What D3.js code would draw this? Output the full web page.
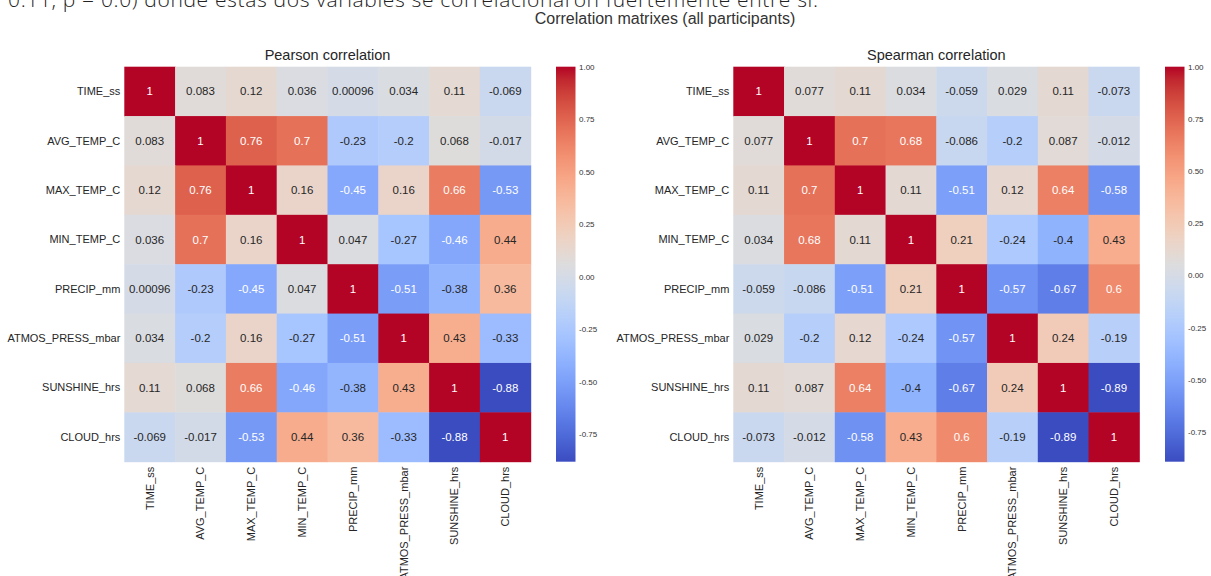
<!DOCTYPE html>
<html>
<head>
<meta charset="utf-8">
<script src="https://cdn.jsdelivr.net/npm/d3@7"></script>
<style>
  body { margin: 0; background: #fff; }
  svg text { font-family: "Liberation Sans", Arial, sans-serif; }
  .intro { font-family: "Open Sans", sans-serif; font-weight: 300; }
</style>
</head>
<body>
<svg id="chart" width="1211" height="576"></svg>
<script>
// variable names (rows and columns)
const vars = ["TIME_ss", "AVG_TEMP_C", "MAX_TEMP_C", "MIN_TEMP_C", "PRECIP_mm",
  "ATMOS_PRESS_mbar", "SUNSHINE_hrs", "CLOUD_hrs"];

const pearson = [
  [1, 0.083, 0.12, 0.036, 0.00096, 0.034, 0.11, -0.069],
  [0.083, 1, 0.76, 0.7, -0.23, -0.2, 0.068, -0.017],
  [0.12, 0.76, 1, 0.16, -0.45, 0.16, 0.66, -0.53],
  [0.036, 0.7, 0.16, 1, 0.047, -0.27, -0.46, 0.44],
  [0.00096, -0.23, -0.45, 0.047, 1, -0.51, -0.38, 0.36],
  [0.034, -0.2, 0.16, -0.27, -0.51, 1, 0.43, -0.33],
  [0.11, 0.068, 0.66, -0.46, -0.38, 0.43, 1, -0.88],
  [-0.069, -0.017, -0.53, 0.44, 0.36, -0.33, -0.88, 1]
];

const spearman = [
  [1, 0.077, 0.11, 0.034, -0.059, 0.029, 0.11, -0.073],
  [0.077, 1, 0.7, 0.68, -0.086, -0.2, 0.087, -0.012],
  [0.11, 0.7, 1, 0.11, -0.51, 0.12, 0.64, -0.58],
  [0.034, 0.68, 0.11, 1, 0.21, -0.24, -0.4, 0.43],
  [-0.059, -0.086, -0.51, 0.21, 1, -0.57, -0.67, 0.6],
  [0.029, -0.2, 0.12, -0.24, -0.57, 1, 0.24, -0.19],
  [0.11, 0.087, 0.64, -0.4, -0.67, 0.24, 1, -0.89],
  [-0.073, -0.012, -0.58, 0.43, 0.6, -0.19, -0.89, 1]
];

const cbarTicks = [1.0, 0.75, 0.5, 0.25, 0.0, -0.25, -0.5, -0.75];

// coolwarm (Moreland) control colours
const coolwarm = ["#3b4cc0", "#445acc", "#4d68d7", "#5775e1", "#6282ea", "#6c8ef1", "#779af7", "#82a5fb",
  "#8db0fe", "#98b9ff", "#a3c2ff", "#aec9fd", "#b8d0f9", "#c2d5f4", "#ccd9ee", "#d5dbe6",
  "#dddddd", "#e5d8d1", "#ecd3c5", "#f1ccb8", "#f5c4ac", "#f7bb9f", "#f7b193", "#f7a686",
  "#f49a7b", "#f18d6f", "#ec7f63", "#e57058", "#de604d", "#d55042", "#cb3e38", "#c0282f", "#b40426"];
const cmap = d3.interpolateRgbBasis(coolwarm);

const svg = d3.select("#chart");
const plotTop = 66.7, plotBottom = 461.7;

// intro sentence cut at the top of the screenshot
svg.append("text")
  .attr("class", "intro")
  .attr("x", 8).attr("y", 7)
  .attr("font-size", 21)
  .attr("fill", "#222")
  .attr("textLength", 810)
  .text("0.11, p = 0.0) donde estas dos variables se correlacionaron fuertemente entre sí.");

svg.append("text")
  .attr("x", 665).attr("y", 24)
  .attr("text-anchor", "middle")
  .attr("font-size", 16)
  .attr("fill", "#333")
  .text("Correlation matrixes (all participants)");

function luminance(c) {
  const rgb = d3.rgb(c);
  const f = v => { v = v / 255; return v <= 0.03928 ? v / 12.92 : Math.pow((v + 0.055) / 1.055, 2.4); };
  return 0.2126 * f(rgb.r) + 0.7152 * f(rgb.g) + 0.0722 * f(rgb.b);
}

function drawHeatmap(data, title, x0, x1, cx0, id) {
  const vmin = d3.min(data.flat()), vmax = d3.max(data.flat());
  const color = v => cmap((v - vmin) / (vmax - vmin));

  const x = d3.scaleBand().domain(vars).range([x0, x1]);
  const y = d3.scaleBand().domain(vars).range([plotTop, plotBottom]);

  const g = svg.append("g");

  const cells = [];
  data.forEach((row, i) => row.forEach((v, j) => cells.push({r: vars[i], c: vars[j], v: v})));

  g.selectAll("rect.cell").data(cells).enter().append("rect")
    .attr("class", "cell")
    .attr("x", d => x(d.c))
    .attr("y", d => y(d.r))
    .attr("width", x.bandwidth() + 0.5)
    .attr("height", y.bandwidth() + 0.5)
    .attr("fill", d => color(d.v));

  g.selectAll("text.annot").data(cells).enter().append("text")
    .attr("class", "annot")
    .attr("x", d => x(d.c) + x.bandwidth() / 2)
    .attr("y", d => y(d.r) + y.bandwidth() / 2)
    .attr("dy", "0.35em")
    .attr("text-anchor", "middle")
    .attr("font-size", 11.5)
    .attr("fill", d => luminance(color(d.v)) <= 0.408 ? "#fff" : "#262626")
    .text(d => String(d.v));

  // row labels
  g.selectAll("text.ylab").data(vars).enter().append("text")
    .attr("class", "ylab")
    .attr("x", x0 - 4)
    .attr("y", d => y(d) + y.bandwidth() / 2)
    .attr("dy", "0.35em")
    .attr("text-anchor", "end")
    .attr("font-size", 11)
    .attr("fill", "#262626")
    .text(d => d);

  // column labels, rotated
  g.selectAll("text.xlab").data(vars).enter().append("text")
    .attr("class", "xlab")
    .attr("transform", d => "translate(" + (x(d) + x.bandwidth() / 2) + "," + (plotBottom + 5) + ") rotate(-90)")
    .attr("dy", "0.35em")
    .attr("text-anchor", "end")
    .attr("font-size", 11)
    .attr("fill", "#262626")
    .text(d => d);

  g.append("text")
    .attr("x", (x0 + x1) / 2).attr("y", 60)
    .attr("text-anchor", "middle")
    .attr("font-size", 14.5)
    .attr("fill", "#262626")
    .text(title);

  // colorbar
  const cw = 19.5;
  const cy = d3.scaleLinear().domain([vmin, vmax]).range([plotBottom, plotTop]);
  const grad = svg.append("defs").append("linearGradient")
    .attr("id", id).attr("x1", 0).attr("y1", 1).attr("x2", 0).attr("y2", 0);
  d3.range(0, 1.0001, 1 / 32).forEach(t => {
    grad.append("stop").attr("offset", t).attr("stop-color", cmap(t));
  });
  g.append("rect")
    .attr("x", cx0).attr("y", cy(vmax))
    .attr("width", cw).attr("height", cy(vmin) - cy(vmax))
    .attr("fill", "url(#" + id + ")");

  g.selectAll("text.ctick").data(cbarTicks.filter(t => t >= vmin && t <= vmax)).enter().append("text")
    .attr("class", "ctick")
    .attr("x", cx0 + cw + 3.5)
    .attr("y", d => cy(d))
    .attr("dy", "0.35em")
    .attr("font-size", 8)
    .attr("fill", "#333")
    .text(d => d.toFixed(2));
}

drawHeatmap(pearson, "Pearson correlation", 124.3, 530.7, 556, "gradP");
drawHeatmap(spearman, "Spearman correlation", 733.3, 1139.3, 1165, "gradS");
</script>
</body>
</html>
